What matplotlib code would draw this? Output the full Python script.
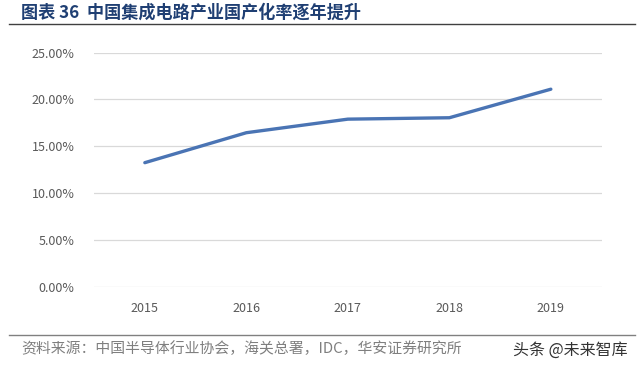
import matplotlib
matplotlib.use('Agg')
import matplotlib.pyplot as plt
from matplotlib.lines import Line2D
from matplotlib.ticker import FuncFormatter

plt.rcParams['font.family'] = ['Noto Sans CJK SC', 'DejaVu Sans']

# data
years = ['2015', '2016', '2017', '2018', '2019']
ratio = [13.25, 16.45, 17.9, 18.05, 21.1]
yticks = [0, 5, 10, 15, 20, 25]

title = '图表 36  中国集成电路产业国产化率逐年提升'
source = '资料来源：中国半导体行业协会，海关总署，IDC，华安证券研究所'
mark = '头条 @未来智库'

fig = plt.figure(figsize=(6.4, 3.71), dpi=100)
ax = fig.add_axes([0.147, 0.2272, 0.793, 0.6308])

x = range(len(years))
ax.plot(x, ratio, color='#4A74B4', lw=2.4, solid_capstyle='round')
ax.set_xlim(-0.5, len(years) - 0.5)
ax.set_ylim(0, 25)
ax.set_yticks(yticks)
ax.yaxis.set_major_formatter(FuncFormatter(lambda v, p: f'{v:.2f}%'))
ax.set_xticks(list(x))
ax.set_xticklabels(years)
ax.grid(axis='y', color='#D9D9D9', lw=0.9)
ax.set_axisbelow(True)
for s in ax.spines.values():
    s.set_visible(False)
ax.tick_params(length=0, colors='#595959', labelsize=9)
ax.tick_params(axis='y', pad=14)
ax.tick_params(axis='x', pad=11)

# header and footer
fig.text(0.033, 0.966, title, fontsize=12.3, fontweight='bold',
         color='#1F3F73', va='center')
fig.add_artist(Line2D([0.014, 0.992], [0.935, 0.935], color='#404040',
                      lw=1.0, transform=fig.transFigure))
fig.add_artist(Line2D([0.014, 0.992], [0.097, 0.097], color='#808080',
                      lw=1.0, transform=fig.transFigure))
fig.text(0.033, 0.059, source, fontsize=10.7, color='#7F7F7F', va='center')
fig.text(0.981, 0.057, mark, fontsize=11.5, color='#333333', va='center',
         ha='right')

fig.savefig('out.png', dpi=100)
